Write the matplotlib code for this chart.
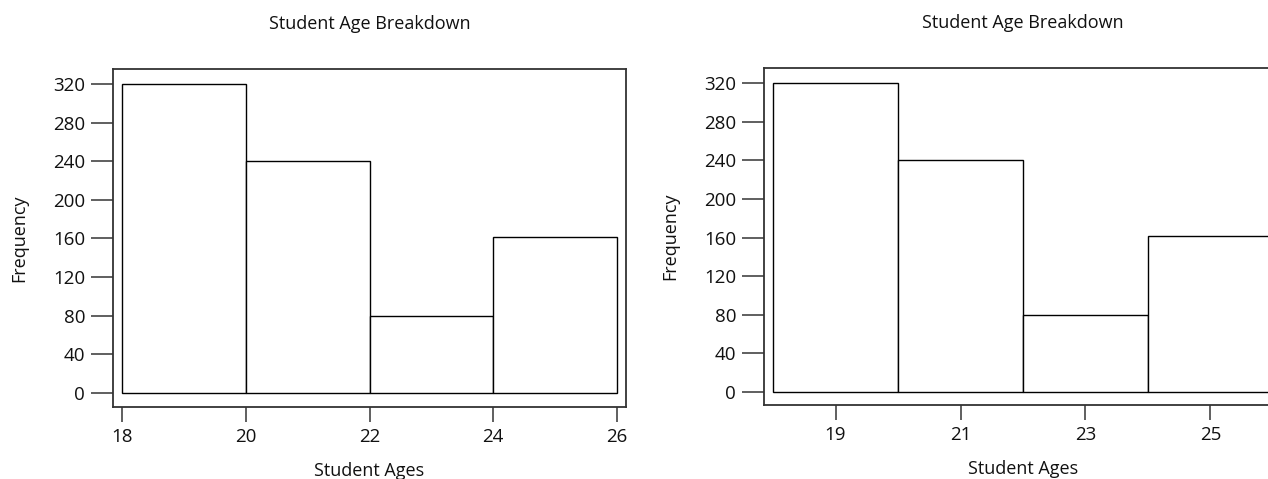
import matplotlib
matplotlib.use("Agg")
import matplotlib.pyplot as plt

# histogram data: age bins and how many students fall in each
bin_edges = [18, 20, 22, 24, 26]
counts = [320, 240, 80, 162]
y_ticks = [0, 40, 80, 120, 160, 200, 240, 280, 320]
left_x_ticks = [18, 20, 22, 24, 26]
right_x_ticks = [19, 21, 23, 25]

plt.rcParams['font.family'] = ['Open Sans', 'DejaVu Sans']

W, H = 1268, 479
fig = plt.figure(figsize=(W / 100, H / 100), dpi=100)


def px_axes(x0, y0, x1, y1):
    # axes placed in pixel coordinates measured from the top-left corner
    return fig.add_axes([x0 / W, 1 - y1 / H, (x1 - x0) / W, (y1 - y0) / H])


def draw_hist(ax, xticks):
    widths = [b - a for a, b in zip(bin_edges[:-1], bin_edges[1:])]
    ax.bar(bin_edges[:-1], counts, width=widths, align='edge',
           color='white', edgecolor='black', linewidth=1.0)
    ax.set_xlim(17.855, 26.145)
    ax.set_ylim(-14.5, 335.5)
    ax.set_yticks(y_ticks)
    ax.set_xticks(xticks)
    for s in ax.spines.values():
        s.set_linewidth(1.3)
        s.set_color('#333333')
    ax.tick_params(axis='y', length=16, width=1.2, color='#444444',
                   pad=4, labelsize=13.5, labelcolor='#111111')
    ax.tick_params(axis='x', length=11, width=1.2, color='#444444',
                   pad=4, labelsize=13.5, labelcolor='#111111')
    ax.set_title("Student Age Breakdown", fontsize=13, pad=29, color='#111111')
    ax.set_xlabel("Student Ages", fontsize=13, labelpad=12, color='#111111')
    ax.set_ylabel("Frequency", fontsize=13, labelpad=18, color='#111111')


ax1 = px_axes(113, 69, 626, 407)
draw_hist(ax1, left_x_ticks)

# the right panel runs a little past the figure edge
ax2 = px_axes(764, 68, 1282, 405)
draw_hist(ax2, right_x_ticks)
ax2.set_ylim(-13.4, 335.6)

fig.savefig("out.png", dpi=100, facecolor='white')
